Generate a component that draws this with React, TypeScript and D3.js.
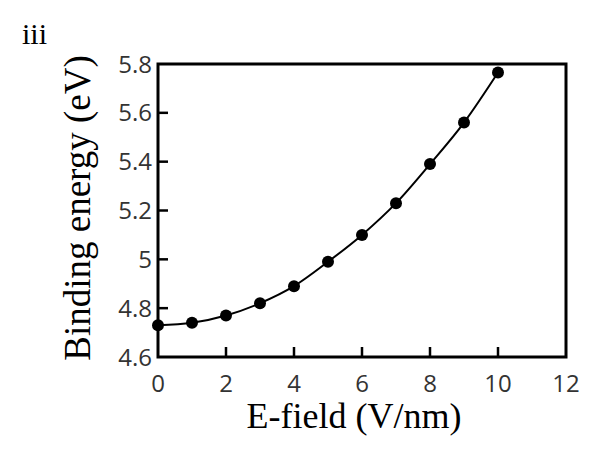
import React from "react";
import * as d3 from "d3";

const fieldValues = [0, 1, 2, 3, 4, 5, 6, 7, 8, 9, 10];
const bindingEnergy = [4.73, 4.74, 4.77, 4.82, 4.89, 4.99, 5.1, 5.23, 5.39, 5.56, 5.765];
const xTicks = [0, 2, 4, 6, 8, 10, 12];
const yTicks = [4.6, 4.8, 5, 5.2, 5.4, 5.6, 5.8];

export default function App() {
    const width = 592;
    const height = 456;
    const margin = { top: 64, right: 26, bottom: 99, left: 158 };

    const x = d3.scaleLinear().domain([0, 12]).range([margin.left, width - margin.right]);
    const y = d3.scaleLinear().domain([4.6, 5.8]).range([height - margin.bottom, margin.top]);

    const data = fieldValues.map((f, i) => ({ f, e: bindingEnergy[i] }));
    const line = d3.line<{ f: number; e: number }>()
        .x((d) => x(d.f))
        .y((d) => y(d.e))
        .curve(d3.curveMonotoneX);

    const tickFont = "'Open Sans', 'Noto Sans', sans-serif";
    const titleFont = "'Liberation Serif', 'DejaVu Serif', serif";
    const bottom = height - margin.bottom;

    return (
        <svg width={width} height={height} style={{ position: "absolute", left: 0, top: 0, background: "#fff" }}>
            <text x={22} y={44} fontFamily={titleFont} fontSize={30} fill="#000">iii</text>

            {/* frame */}
            <rect x={margin.left} y={margin.top} width={width - margin.left - margin.right} height={bottom - margin.top}
                fill="none" stroke="#000" strokeWidth={3} />

            {yTicks.map((t) => (
                <g key={"y" + t}>
                    {t !== 4.6 && t !== 5.8 && (
                        <line x1={margin.left} x2={margin.left + 10} y1={y(t)} y2={y(t)} stroke="#000" strokeWidth={2.5} />
                    )}
                    <text x={margin.left - 6} y={y(t)} dy="0.36em" textAnchor="end" fontFamily={tickFont} fontSize={24} fill="#333">
                        {d3.format("")(t)}
                    </text>
                </g>
            ))}

            {xTicks.map((t) => (
                <g key={"x" + t}>
                    {t !== 0 && t !== 12 && (
                        <line x1={x(t)} x2={x(t)} y1={bottom} y2={bottom - 10} stroke="#000" strokeWidth={2.5} />
                    )}
                    <text x={x(t)} y={bottom + 35} textAnchor="middle" fontFamily={tickFont} fontSize={24} fill="#333">
                        {t}
                    </text>
                </g>
            ))}

            <path d={line(data) || ""} fill="none" stroke="#000" strokeWidth={2} />
            {data.map((d, i) => (
                <circle key={i} cx={x(d.f)} cy={y(d.e)} r={6} fill="#000" />
            ))}

            <text x={354} y={428} textAnchor="middle" fontFamily={titleFont} fontSize={36} fill="#000">E-field (V/nm)</text>
            <text transform={`translate(90,208) rotate(-90)`} textAnchor="middle"
                fontFamily={titleFont} fontSize={37} fill="#000">Binding energy (eV)</text>
        </svg>
    );
}
